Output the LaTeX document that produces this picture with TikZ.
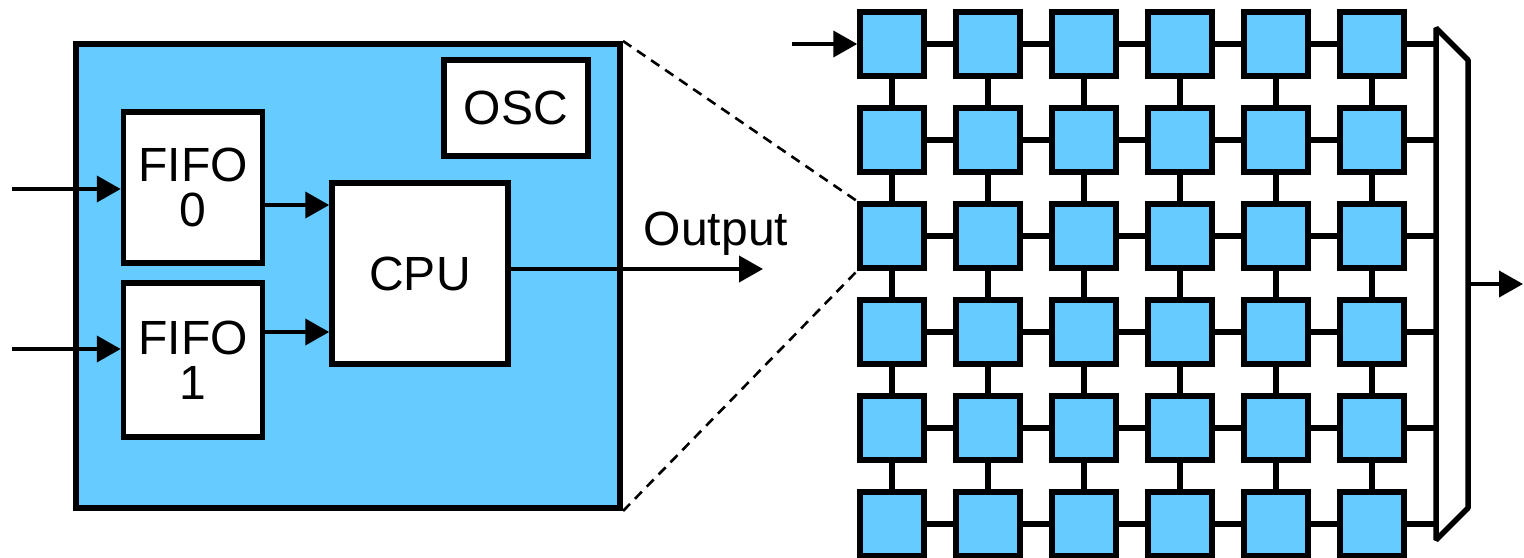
\documentclass[tikz,border=0pt]{standalone}
\usepackage{fontspec}
\setmainfont{Liberation Sans}
\usetikzlibrary{arrows.meta}
\definecolor{chipblue}{HTML}{66CCFF}
\begin{document}
\begin{tikzpicture}[x=0.5pt,y=-0.5pt,
  thickline/.style={line width=2.75pt},
  txt/.style={font=\fontsize{24pt}{22.5pt}\selectfont},
  block/.style={draw, thickline, fill=white, rectangle, inner sep=0pt, align=center, txt},
  cell/.style={draw, thickline, fill=chipblue, rectangle, inner sep=0pt,
    minimum width=32pt, minimum height=32pt},
  meshlink/.style={thickline},
  sig/.style={line width=2pt, -{Triangle[length=12pt,width=13pt]}},
  zoomline/.style={line width=1.3pt, dash pattern=on 5pt off 3.5pt}
]
\useasboundingbox (0,0) rectangle (1524,557);

% ---- single processing element ----
\node[draw, line width=3pt, fill=chipblue, rectangle, inner sep=0pt,
      minimum width=272pt, minimum height=232pt] (chip) at (348,276) {};

\node[block, minimum width=69.5pt, minimum height=75.5pt] (fifo0) at (193,187.5) {FIFO\\0};
\node[block, minimum width=69.5pt, minimum height=77pt] (fifo1) at (193,360) {FIFO\\1};
\node[block, minimum width=88pt, minimum height=90.5pt] (cpu) at (420,273.5) {CPU};
\node[block, minimum width=72pt, minimum height=48pt] (osc) at (516,108) {OSC};

\coordinate (in0) at (12,189);
\coordinate (in1) at (12,349);
\coordinate (y0) at (0,205);
\coordinate (y1) at (0,332);
\coordinate (oy) at (0,269);
\coordinate (oend) at (763,269);

\draw[sig] (in0) -- (in0 -| fifo0.west);
\draw[sig] (in1) -- (in1 -| fifo1.west);
\draw[sig] (fifo0.east |- y0) -- (cpu.west |- y0);
\draw[sig] (fifo1.east |- y1) -- (cpu.west |- y1);
\draw[sig] (cpu.east |- oy) -- (oend);
\node[txt, anchor=base, inner sep=0pt] (outlbl) at (716,245) {Output};

% ---- 6x6 array ----
\foreach \r in {0,...,5}
  \foreach \c in {0,...,5}
    \node[cell] (c-\r-\c) at ({892+96*\c},{44+96*\r}) {};

% horizontal mesh links
\foreach \r in {0,...,5}
  \foreach \c/\cn in {0/1,1/2,2/3,3/4,4/5}
    \draw[meshlink] (c-\r-\c.east) -- (c-\r-\cn.west);

% vertical mesh links
\foreach \c in {0,...,5}
  \foreach \r/\rn in {0/1,1/2,2/3,3/4,4/5}
    \draw[meshlink] (c-\r-\c.south) -- (c-\rn-\c.north);

% output multiplexer
\coordinate (mtl) at (1436,28);
\coordinate (mtr) at (1468,60);
\coordinate (mbr) at (1468,508);
\coordinate (mbl) at (1436,540);
\draw[thickline, line join=bevel] (mtl) -- (mtr) -- (mbr) -- (mbl) -- cycle;

\foreach \r in {0,...,5}
  \draw[meshlink] (c-\r-5.east) -- (c-\r-5.east -| mtl);

\coordinate (mout) at (1468,284);
\coordinate (mend) at (1523,284);
\draw[sig] (mout) -- (mend);

\coordinate (gin) at (792,44);
\draw[sig] (gin) -- (c-0-0.west);

% zoom lines
\draw[zoomline] (chip.north east) -- (c-2-0.north west);
\draw[zoomline] (chip.south east) -- (c-2-0.south west);
\end{tikzpicture}
\end{document}
